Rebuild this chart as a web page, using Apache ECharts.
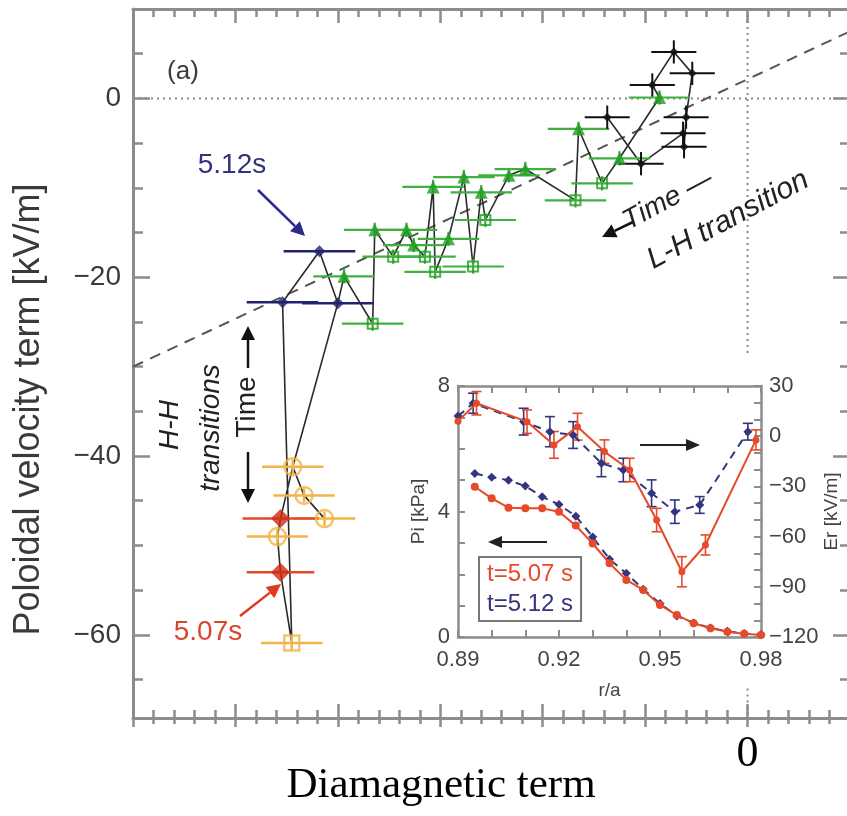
<!DOCTYPE html>
<html><head><meta charset="utf-8">
<script src="https://cdn.jsdelivr.net/npm/echarts@6/dist/echarts.min.js"></script>
<style>html,body{margin:0;padding:0;background:#fff}#c{width:847px;height:816px}</style>
</head><body><div id="c"></div>
<script>
// ---------- main plot data ----------
const starX = [-1.37, -1.04, -0.63, -0.62, -0.60, -0.54, -0.72, -0.93];
const starY = [-2.1, -7.3, -3.9, -5.4, -2.1, 2.8, 5.2, 1.5];
const greenTriX = [-0.86, -1.25, -1.65, -2.17, -2.33, -2.60, -2.77, -3.07, -2.92, -3.26, -3.33, -3.64, -3.94];
const greenTriY = [0.1, -6.7, -3.4, -7.9, -8.6, -10.5, -8.8, -9.9, -15.7, -16.4, -14.7, -14.7, -19.9];
const greenSqX = [-1.42, -1.68, -2.56, -2.68, -3.05, -3.15, -3.46, -3.66];
const greenSqY = [-9.5, -11.4, -13.6, -18.8, -19.4, -17.7, -17.7, -25.2];
const navyX = [-4.00, -4.18, -4.54];
const navyY = [-22.9, -17.1, -22.8];
const orangeX = [-4.44, -4.33, -4.13, -4.59];
const orangeY = [-41.2, -44.4, -47.0, -49.0];
const orangeSqX = [-4.45];
const orangeSqY = [-60.9];
const redX = [-4.56, -4.56];
const redY = [-47.0, -53.0];
// time ordering of the connecting line (group, index)
const pathOrder = [['s',0],['s',1],['s',2],['s',3],['s',4],['s',5],['s',6],['s',7],
  ['gt',0],['gt',1],['gs',0],['gt',2],['gs',1],['gt',3],['gt',4],['gs',2],['gt',5],['gs',3],['gt',6],
  ['gt',8],['gs',4],['gt',7],['gs',5],['gt',9],['gt',10],['gs',6],['gt',11],['gs',7],['gt',12],
  ['n',0],['n',1],['n',2],['os',0],['r',1],['o',3],['r',0],['o',0],['o',1],['o',2]];
const pathOrder2 = [['n',0],['o',0]];
// reference lines
const fitX = [-6, 1], fitY = [-30, 7.5];
const zeroX = [-6, 1], zeroY = [0, 0];
const vRefY1 = [10, -28.6], vRefY2 = [-66, -69.3];
// ticks
const yMajor = [0, -20, -40, -60];
const yTickLabels = ['0', '\u221220', '\u221240', '\u221260'];
const yMinor = [5, -5, -10, -15, -25, -30, -35, -45, -50, -55, -65];

// ---------- inset data ----------
const rPi = [0.895,0.900,0.905,0.910,0.915,0.920,0.925,0.930,0.935,0.940,0.945,0.950,0.955,0.960,0.965,0.970,0.975,0.980];
const piRed = [4.79,4.42,4.12,4.10,4.10,3.99,3.55,2.98,2.35,1.82,1.50,1.02,0.70,0.44,0.28,0.17,0.10,0.06];
const piBlue = [5.21,5.09,5.00,4.81,4.47,4.22,3.85,3.19,2.48,2.03,1.52,1.07,0.67,0.45,0.29,0.18,0.11,0.07];
const rErRed = [0.890,0.8955,0.9105,0.9185,0.9255,0.9335,0.941,0.949,0.9565,0.9635,0.9785];
const erRed = [9,19.7,8.7,-5.2,5.7,-9.2,-20.2,-50.1,-81,-65,-2.2];
const erRedErr = [0,7,7,8,8,7,7,7,9,6,6];
const rErBlue = [0.890,0.8945,0.9095,0.9173,0.9242,0.9326,0.9391,0.9475,0.9544,0.9618,0.9761];
const erBlue = [12,19.7,8.7,2.7,0.7,-16.2,-20.2,-34.1,-45.1,-41.1,2.7];
const erBlueErr = [0,6,8,9,8,8,7,8,7,5,5];
const rTicks = [0.89,0.90,0.91,0.92,0.93,0.94,0.95,0.96,0.97,0.98];
const rLabels = [0.89,0.92,0.95,0.98];
const piLabels = [0,4,8];
const erLabels = [30,0,-30,-60,-90,-120];

// ---------- styles ----------
const FONT = '"Liberation Sans", "DejaVu Sans", Arial, sans-serif';
const SERIF = '"Liberation Serif", "DejaVu Serif", serif';
const frameC = '#8c8c8c', txtC = '#3a3a3a';
const NAVY = '#22226e', RED = '#d02a12', ORANGE = '#f2b448', GREEN = '#1f9c1f', GREENBAR = '#40b040';
const IRED = '#e64a2a', IBLUE = '#34357f';

const groups = {s:[starX,starY], gt:[greenTriX,greenTriY], gs:[greenSqX,greenSqY], n:[navyX,navyY], o:[orangeX,orangeY], os:[orangeSqX,orangeSqY], r:[redX,redY]};
const pathData = ord => ord.map(([g,i]) => [groups[g][0][i], groups[g][1][i]]);
const pairs = (xs, ys) => xs.map((x,i) => [x, ys[i]]);

function errSeries(xs, ys, ex, ey, color, w, xi, yi, cap) {
  return {
    type: 'custom', xAxisIndex: xi, yAxisIndex: yi, silent: true, z: 3,
    data: xs.map((x,i) => [x, ys[i], Array.isArray(ex) ? ex[i] : ex, Array.isArray(ey) ? ey[i] : ey]),
    encode: {x: 0, y: 1},
    renderItem: (params, api) => {
      const x = api.value(0), y = api.value(1), exv = api.value(2), eyv = api.value(3);
      const ch = [];
      const st = {stroke: color, lineWidth: w};
      if (exv > 0) {
        const a = api.coord([x - exv, y]), b = api.coord([x + exv, y]);
        ch.push({type:'line', shape:{x1:a[0],y1:a[1],x2:b[0],y2:b[1]}, style:st});
      }
      if (eyv > 0) {
        const a = api.coord([x, y - eyv]), b = api.coord([x, y + eyv]);
        ch.push({type:'line', shape:{x1:a[0],y1:a[1],x2:b[0],y2:b[1]}, style:st});
        if (cap) {
          ch.push({type:'line', shape:{x1:a[0]-cap,y1:a[1],x2:a[0]+cap,y2:a[1]}, style:st});
          ch.push({type:'line', shape:{x1:b[0]-cap,y1:b[1],x2:b[0]+cap,y2:b[1]}, style:st});
        }
      }
      return {type:'group', children: ch};
    }
  };
}

function arrow(x1, y1, x2, y2, color, w, hl, hw) {
  const ang = Math.atan2(y2 - y1, x2 - x1);
  const bx = x2 - hl * Math.cos(ang), by = y2 - hl * Math.sin(ang);
  const px = -Math.sin(ang) * hw, py = Math.cos(ang) * hw;
  return [
    {type:'line', shape:{x1, y1, x2: bx, y2: by}, style:{stroke: color, lineWidth: w}, z: 20},
    {type:'polygon', shape:{points:[[x2,y2],[bx+px,by+py],[bx-px,by-py]]}, style:{fill: color}, z: 20}
  ];
}
function label(text, x, y, size, color, opts) {
  opts = opts || {};
  return {type:'text', x, y, rotation: opts.rot || 0, z: 20,
    style:{text, fill: color, font: (opts.italic ? 'italic ' : '') + size + 'px ' + (opts.family || FONT),
      align:'center', verticalAlign:'middle'}};
}

const chart = echarts.init(document.getElementById('c'), null, {renderer: 'canvas'});

const tickStyle = {color: frameC, width: 2.5};
const mainX = (extra) => Object.assign({gridIndex:0, type:'value', min:-6, max:1, interval:1,
  splitLine:{show:false}, axisLabel:{show:false}}, extra);
const mainY = (extra) => Object.assign({gridIndex:0, type:'value', min:-69.3, max:10,
  splitLine:{show:false}, axisLabel:{show:false}}, extra);

const option = {
  animation: false,
  backgroundColor: '#fff',
  grid: [
    {left: 133, top: 9, right: -3, bottom: 98, containLabel: false, outerBoundsMode: 'none'},
    {left: 458, top: 386, width: 303, height: 251, containLabel: false, outerBoundsMode: 'none'}
  ],
  xAxis: [
    mainX({position:'bottom',
      axisLine:{show:true, onZero:false, lineStyle:{color:frameC, width:3}},
      axisTick:{show:true, inside:true, length:14, lineStyle:tickStyle},
      minorTick:{show:true, splitNumber:5, length:8, lineStyle:tickStyle},
      axisLabel:{show:true, margin:14, fontFamily:SERIF, fontSize:44, color:'#000',
        formatter: v => (Math.abs(v) < 1e-9 ? '0' : '')}}),
    mainX({position:'bottom',
      axisLine:{show:false, onZero:false},
      axisTick:{show:true, inside:false, length:9, lineStyle:tickStyle},
      minorTick:{show:true, splitNumber:5, length:6, lineStyle:tickStyle}}),
    mainX({position:'top',
      axisLine:{show:true, onZero:false, lineStyle:{color:frameC, width:3}},
      axisTick:{show:true, inside:true, length:14, lineStyle:tickStyle},
      minorTick:{show:true, splitNumber:5, length:8, lineStyle:tickStyle}}),
    {gridIndex:1, type:'value', min:0.89, max:0.98, position:'bottom',
      splitLine:{show:false},
      axisLine:{show:true, onZero:false, lineStyle:{color:frameC, width:2.5}},
      axisTick:{show:true, inside:true, length:7, customValues:rTicks, lineStyle:{color:frameC, width:2}},
      axisLabel:{show:true, customValues:rLabels, formatter: v => v.toFixed(2), margin:12,
        fontFamily:FONT, fontSize:22, color:'#444'},
      name:'r/a', nameLocation:'middle', nameGap:44,
      nameTextStyle:{fontFamily:FONT, fontSize:19, color:'#444'}},
    {gridIndex:1, type:'value', min:0.89, max:0.98, position:'top',
      splitLine:{show:false},
      axisLine:{show:true, onZero:false, lineStyle:{color:frameC, width:2.5}},
      axisTick:{show:true, inside:true, length:7, customValues:rTicks, lineStyle:{color:frameC, width:2}},
      axisLabel:{show:false}}
  ],
  yAxis: [
    mainY({position:'left',
      axisLine:{show:true, onZero:false, lineStyle:{color:frameC, width:3}},
      axisTick:{show:true, inside:true, length:17, customValues:yMajor, lineStyle:tickStyle},
      axisLabel:{show:true, customValues:yMajor, margin:12, fontFamily:FONT, fontSize:28, color:txtC,
        formatter: v => yTickLabels[yMajor.indexOf(v)]},
      name:'Poloidal velocity term [kV/m]', nameLocation:'middle', nameGap:86, nameRotate:90,
      nameTextStyle:{fontFamily:FONT, fontSize:36, color:txtC, padding:[0,92,0,0]}}),
    mainY({position:'left',
      axisLine:{show:false, onZero:false},
      axisTick:{show:true, inside:true, length:10, customValues:yMinor, lineStyle:tickStyle}}),
    mainY({position:'right',
      axisLine:{show:true, onZero:false, lineStyle:{color:frameC, width:3}},
      axisTick:{show:true, inside:true, length:17, customValues:yMajor, lineStyle:tickStyle}}),
    mainY({position:'right',
      axisLine:{show:false, onZero:false},
      axisTick:{show:true, inside:true, length:10, customValues:yMinor, lineStyle:tickStyle}}),
    {gridIndex:1, type:'value', min:0, max:8, interval:1, position:'left',
      splitLine:{show:false},
      axisLine:{show:true, onZero:false, lineStyle:{color:frameC, width:2.5}},
      axisTick:{show:true, inside:true, length:7, lineStyle:{color:frameC, width:2}},
      axisLabel:{show:true, customValues:piLabels, margin:8, fontFamily:FONT, fontSize:22, color:'#444'},
      name:'Pi [kPa]', nameLocation:'middle', nameGap:30, nameRotate:90,
      nameTextStyle:{fontFamily:FONT, fontSize:19, color:'#444'}},
    {gridIndex:1, type:'value', min:-120, max:30, interval:10, position:'right',
      splitLine:{show:false},
      axisLine:{show:true, onZero:false, lineStyle:{color:frameC, width:2.5}},
      axisTick:{show:true, inside:true, length:7, lineStyle:{color:frameC, width:2}},
      axisLabel:{show:true, customValues:erLabels, margin:8, fontFamily:FONT, fontSize:22, color:'#444',
        formatter: v => (v < 0 ? '\u2212' + Math.abs(v) : String(v))},
      name:'Er [kV/m]', nameLocation:'middle', nameGap:56, nameRotate:90,
      nameTextStyle:{fontFamily:FONT, fontSize:19, color:'#444'}}
  ],
  legend: {
    data: [{name:'t=5.07 s', textStyle:{color:IRED}}, {name:'t=5.12 s', textStyle:{color:IBLUE}}],
    orient:'vertical', left:479, top:557, icon:'none', itemWidth:0, itemHeight:0, itemGap:6,
    padding:[5,8,5,3], borderColor:'#777', borderWidth:2, selectedMode:false,
    textStyle:{fontFamily:FONT, fontSize:24}
  },
  series: [
    // reference lines
    {type:'line', data:pairs(zeroX, zeroY), symbol:'none', silent:true, z:1,
      lineStyle:{color:'#888', width:2, type:[2,4]}},
    {type:'line', data:pairs([0,0], vRefY1), symbol:'none', silent:true, z:1,
      lineStyle:{color:'#888', width:2, type:[2,4]}},
    {type:'line', data:pairs([0,0], vRefY2), symbol:'none', silent:true, z:1,
      lineStyle:{color:'#888', width:2, type:[2,4]}},
    {type:'line', data:pairs(fitX, fitY), symbol:'none', silent:true, z:1,
      lineStyle:{color:'#555', width:2, type:[11,8]}},
    // time path
    {type:'line', data:pathData(pathOrder), symbol:'none', silent:true, z:2,
      lineStyle:{color:'#2a2a2a', width:1.6}},
    {type:'line', data:pathData(pathOrder2), symbol:'none', silent:true, z:2,
      lineStyle:{color:'#2a2a2a', width:1.6}},
    // error bars
    errSeries(greenTriX, greenTriY, 0.3, 0.8, GREENBAR, 2.2, 0, 0),
    errSeries(greenSqX, greenSqY, 0.3, 0.8, GREENBAR, 2.2, 0, 0),
    errSeries(starX, starY, 0.22, 1.3, '#111', 2, 0, 0),
    errSeries(navyX, navyY, [0.35,0.35,0.35], 0, NAVY, 2.5, 0, 0),
    errSeries(orangeX, orangeY, 0.3, 0.8, ORANGE, 2.5, 0, 0),
    errSeries(orangeSqX, orangeSqY, 0.3, 0.8, ORANGE, 2.5, 0, 0),
    errSeries(redX, redY, [0.37,0.33], 0, '#e04a2a', 2.5, 0, 0),
    // markers
    {type:'scatter', data:pairs(starX, starY), symbol:'diamond', symbolSize:9, z:5,
      itemStyle:{color:'#111'}},
    {type:'scatter', data:pairs(greenTriX, greenTriY), symbol:'triangle', symbolSize:13, z:5,
      itemStyle:{color:GREEN}},
    {type:'scatter', data:pairs(greenSqX, greenSqY), symbol:'rect', symbolSize:10, z:5,
      itemStyle:{color:'rgba(255,255,255,0)', borderColor:GREEN, borderWidth:2}},
    {type:'scatter', data:pairs(navyX, navyY), symbol:'diamond', symbolSize:12, z:5,
      itemStyle:{color:NAVY}},
    {type:'scatter', data:pairs(orangeX, orangeY), symbol:'circle', symbolSize:17, z:5,
      itemStyle:{color:'rgba(255,255,255,0)', borderColor:ORANGE, borderWidth:2.5}},
    {type:'scatter', data:pairs(orangeSqX, orangeSqY), symbol:'rect', symbolSize:15, z:5,
      itemStyle:{color:'rgba(255,255,255,0)', borderColor:ORANGE, borderWidth:2.5}},
    {type:'scatter', data:pairs(redX, redY), symbol:'diamond', symbolSize:19, z:6,
      itemStyle:{color:RED}},
    // inset
    {name:'t=5.07 s', type:'line', xAxisIndex:3, yAxisIndex:4, data:pairs(rPi, piRed),
      symbol:'circle', symbolSize:8, itemStyle:{color:IRED}, lineStyle:{color:IRED, width:2}, z:6},
    {name:'t=5.12 s', type:'line', xAxisIndex:3, yAxisIndex:4, data:pairs(rPi, piBlue),
      symbol:'diamond', symbolSize:9, itemStyle:{color:IBLUE}, lineStyle:{color:IBLUE, width:2, type:[8,6]}, z:5},
    errSeries(rErBlue, erBlue, 0, erBlueErr, IBLUE, 1.6, 3, 5, 5),
    errSeries(rErRed, erRed, 0, erRedErr, IRED, 1.6, 3, 5, 5),
    {name:'t=5.12 s', type:'line', xAxisIndex:3, yAxisIndex:5, data:pairs(rErBlue, erBlue),
      symbol:'diamond', symbolSize:9, itemStyle:{color:IBLUE}, lineStyle:{color:IBLUE, width:2, type:[8,6]}, z:5},
    {name:'t=5.07 s', type:'line', xAxisIndex:3, yAxisIndex:5, data:pairs(rErRed, erRed),
      symbol:'circle', symbolSize:7, itemStyle:{color:IRED}, lineStyle:{color:IRED, width:2}, z:6}
  ],
  graphic: [
    label('Diamagnetic term', 441, 786, 43, '#000', {family: SERIF}),
    label('(a)', 183, 72, 26, txtC),
    label('5.12s', 232, 165, 28, '#33337a'),
    label('5.07s', 208, 632, 28, '#d8462e'),
    label('H-H', 170, 425, 28, '#222', {rot: Math.PI/2, italic: true}),
    label('transitions', 211, 428, 28, '#222', {rot: Math.PI/2, italic: true}),
    label('Time', 247, 407, 28, '#222', {rot: Math.PI/2}),
    label('Time \u2014', 668, 200, 28, '#222', {rot: 0.49, italic: true}),
    label('L-H transition', 728, 220, 30, '#222', {rot: 0.49, italic: true}),
    ...arrow(633, 222, 602, 237, '#111', 2.5, 14, 7),
    ...arrow(258, 190, 305, 236, '#2a2a88', 2.5, 14, 7),
    ...arrow(240, 616, 281, 584, '#dd3a20', 2.5, 14, 7),
    ...arrow(248, 368, 248, 326, '#111', 2.5, 14, 7),
    ...arrow(248, 452, 248, 503, '#111', 2.5, 14, 7),
    ...arrow(640, 445, 700, 445, '#222', 2, 14, 6),
    ...arrow(547, 542, 488, 542, '#222', 2, 14, 6)
  ]
};
chart.setOption(option);
</script>
</body></html>
